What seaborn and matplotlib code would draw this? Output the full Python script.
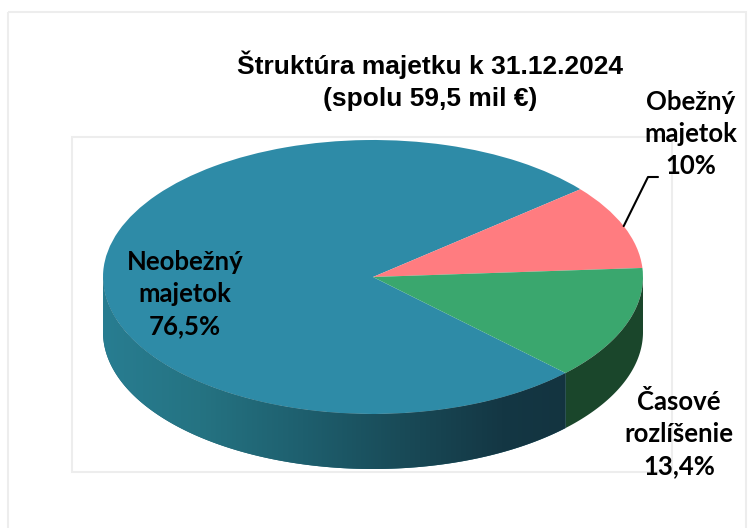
import numpy as np
import matplotlib
matplotlib.use("Agg")
import matplotlib.pyplot as plt
import seaborn as sns
from matplotlib.patches import Polygon, Rectangle
from matplotlib.colors import LinearSegmentedColormap

# data
categories = ["Neobežný\nmajetok", "Obežný\nmajetok", "Časové\nrozlíšenie"]
values = [76.5, 10.0, 13.4]
value_labels = ["76,5%", "10%", "13,4%"]
top_colors = ["#2E8BA7", "#FF7C80", "#3AA76E"]
side_colors = ["#1F6374", "#B35457", "#1A462B"]
title_lines = ["Štruktúra majetku k 31.12.2024", "(spolu 59,5 mil €)"]

sns.set_theme(style="white")
plt.rcParams["font.family"] = ["Liberation Sans", "DejaVu Sans"]

W, H = 748, 528
fig = plt.figure(figsize=(W / 100, H / 100), dpi=100)

# background frames (chart area + plot area)
bg = fig.add_axes([0, 0, 1, 1], zorder=0)
bg.set_xlim(0, W)
bg.set_ylim(H, 0)
bg.axis("off")
bg.add_patch(Rectangle((8, 12), 738, 530, fill=False, ec="#EDEDED", lw=1.5))
bg.add_patch(Rectangle((72, 137), 600, 335, fill=False, ec="#EDEDED", lw=1.5))

# pie geometry in pixels
cx, cy, rx, ry, depth = 373, 277, 270, 137, 55
d = depth / ry
pie_ax = fig.add_axes([(cx - rx) / W, (H - cy - ry - depth) / H,
                       2 * rx / W, (2 * ry + depth) / H], zorder=1)
wedges, _ = pie_ax.pie(values, colors=top_colors, startangle=-44.5,
                       counterclock=False, radius=1,
                       wedgeprops=dict(linewidth=0))

blue_cmap = LinearSegmentedColormap.from_list(
    "side", [(0, "#287D91"), (0.18, "#257382"), (0.37, "#1E5F6E"),
             (0.55, "#194B58"), (0.74, "#143744"), (1, "#12303B")])

# front side wall of each slice
for i, w in enumerate(wedges):
    t1, t2 = w.theta1, w.theta2
    for k in range(-2, 2):
        lo = max(t1, 180 + 360 * k)
        hi = min(t2, 360 + 360 * k)
        if hi <= lo:
            continue
        t = np.radians(np.linspace(lo, hi, 200))
        xs = np.concatenate([np.cos(t), np.cos(t[::-1])])
        ys = np.concatenate([np.sin(t), np.sin(t[::-1]) - d])
        poly = Polygon(np.column_stack([xs, ys]), closed=True,
                       fc=side_colors[i], ec="none")
        pie_ax.add_patch(poly)
        if i == 0:
            grad = np.linspace(0, 1, 256).reshape(1, -1)
            im = pie_ax.imshow(grad, extent=(-1, 1, -1 - d, 1),
                               cmap=blue_cmap, aspect="auto", zorder=2)
            im.set_clip_path(poly)

pie_ax.set_aspect("auto")
pie_ax.set_xlim(-1, 1)
pie_ax.set_ylim(-1 - d, 1)
pie_ax.axis("off")

# texts
txt = fig.add_axes([0, 0, 1, 1], zorder=2)
txt.set_xlim(0, W)
txt.set_ylim(H, 0)
txt.axis("off")
txt.patch.set_alpha(0)

txt.text(430, 81, "\n".join(title_lines), ha="center", va="center",
         fontsize=19, fontweight="bold", linespacing=1.4, color="black",
         family=["Liberation Sans", "DejaVu Sans"])

label_pos = [(185, 294), (691, 134), (679, 434)]
for (lx, ly), cat, vl in zip(label_pos, categories, value_labels):
    txt.text(lx, ly, cat + "\n" + vl, ha="center", va="center",
             fontsize=18.5, fontweight="bold", linespacing=1.42,
             color="black", family=["Lato", "DejaVu Sans"])

# leader line for Obežný majetok
w = wedges[1]
mid = np.radians((w.theta1 + w.theta2) / 2)
px, py = cx + rx * np.cos(mid), cy - ry * np.sin(mid)
txt.plot([px, 648, 658], [py, 177, 177], color="black", lw=1.5)

fig.savefig("out.png", dpi=100)
